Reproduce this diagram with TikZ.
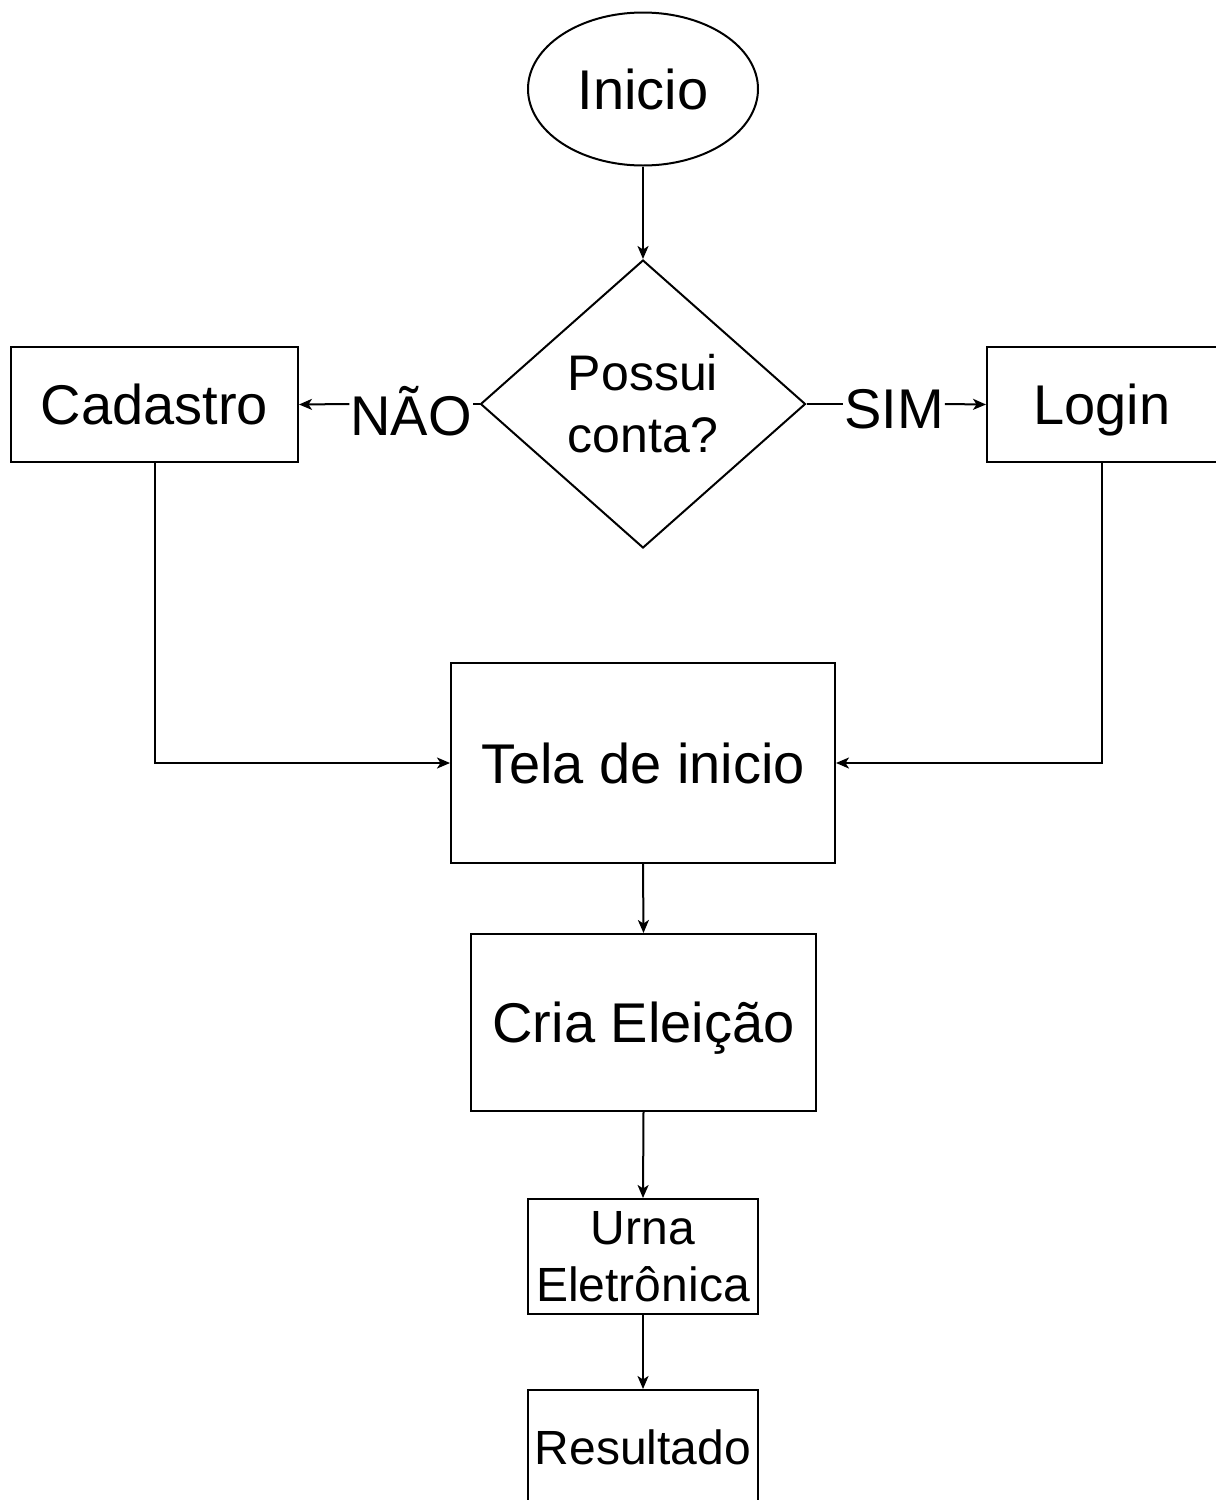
\documentclass[tikz,border=0pt]{standalone}
\usepackage{fontspec}
\setmainfont{Liberation Sans}
\usetikzlibrary{shapes.geometric,arrows.meta}
\begin{document}
\begin{tikzpicture}[x=1pt,y=-1pt,
  line width=2pt,
  big/.style={font=\fontsize{56}{60}\selectfont, text height=40pt, text depth=0pt},
  mid/.style={font=\fontsize{48}{57}\selectfont},
  box/.style={draw, rectangle, inner sep=0pt},
  arr/.style={-{Stealth[length=13pt,width=11pt,inset=3.5pt]}},
  lbl/.style={inner sep=0pt}]
\useasboundingbox (0,0) rectangle (1216,1500);
\clip (0,0) rectangle (1216,1500);
\fill[white] (0,0) rectangle (1216,1500);

\node[draw, ellipse, inner sep=0pt, minimum width=230pt, minimum height=153pt, big] (ini) at (643,89) {Inicio};
\node[draw, diamond, inner sep=0pt, aspect=1.13, minimum width=325pt, minimum height=288pt, font=\fontsize{50}{62}\selectfont, align=center] (dec) at (643,404) {Possui\\conta?};
\node[box, minimum width=287pt, minimum height=115pt, big] (cad) at (154.5,404.5) {Cadastro};
\node[box, minimum width=230pt, minimum height=115pt, big] (log) at (1102,404.5) {Login};
\node[lbl, big] (nao) at (411,415) {NÃO};
\node[lbl, big] (sim) at (894,408) {SIM};
\node[box, minimum width=384pt, minimum height=200pt, big] (tela) at (643,763) {Tela de inicio};
\node[box, minimum width=345pt, minimum height=177pt, big] (cria) at (643.5,1022.5) {Cria Eleição};
\node[box, minimum width=230pt, minimum height=115pt, mid, align=center] (urna) at (643,1256.5) {Urna\\Eletrônica};
\node[box, minimum width=230pt, minimum height=115pt, mid, text height=34.4pt, text depth=0pt] (res) at (643,1447.5) {Resultado};

\draw[arr] (ini.south) -- (dec.north);
\draw (dec.west) -- (dec.west -| nao.east);
\draw[arr] (dec.west -| nao.west) -- (cad.east);
\draw (dec.east) -- (dec.east -| sim.west);
\draw[arr] (dec.east -| sim.east) -- (log.west);
\draw[arr] (cad.south) |- (tela.west);
\draw[arr] (log.south) |- (tela.east);
\draw[arr] (tela.south) -- (cria.north);
\draw[arr] (cria.south) -- (urna.north);
\draw[arr] (urna.south) -- (res.north);
\end{tikzpicture}
\end{document}
